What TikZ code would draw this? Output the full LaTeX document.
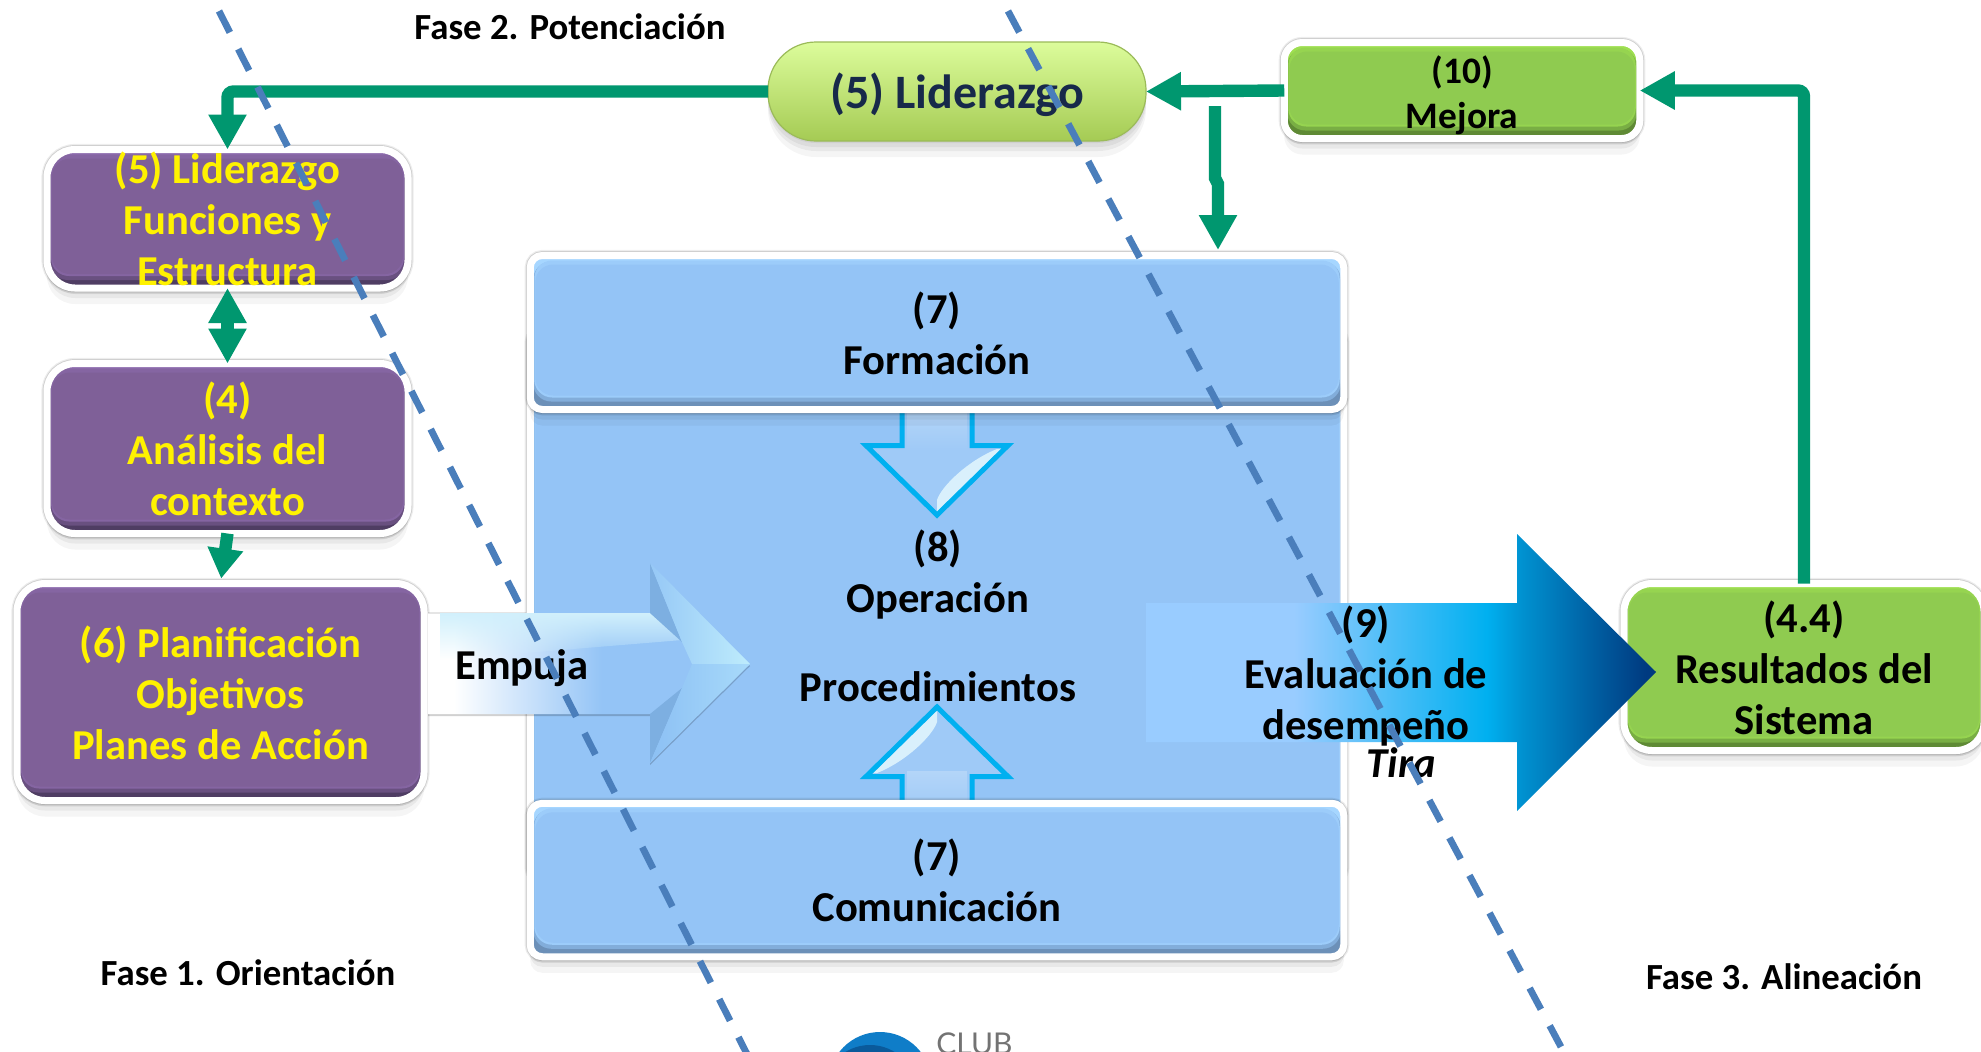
\documentclass[tikz,border=0pt]{standalone}
\usepackage{fontspec}
\setmainfont{Carlito}
\newfontfamily\logofont{Lato}
\usetikzlibrary{arrows.meta,shadows,fadings,calc}
\definecolor{grn}{HTML}{00976F}
\definecolor{dashblue}{HTML}{4A7EBB}
\definecolor{purp}{HTML}{7F6098}
\definecolor{purpT}{HTML}{8D6CAE}
\definecolor{purpB}{HTML}{4F3D63}
\definecolor{leaf}{HTML}{8FCB50}
\definecolor{leafT}{HTML}{9EDF50}
\definecolor{leafB}{HTML}{5F8A35}
\definecolor{sky}{HTML}{94C4F6}
\definecolor{skyT}{HTML}{A6D6FF}
\definecolor{skyB}{HTML}{6C90B8}
\definecolor{cyanline}{HTML}{00B0F0}
\definecolor{bigA}{HTML}{99CCFF}
\definecolor{bigB}{HTML}{00B0F0}
\definecolor{bigC}{HTML}{0090CF}
\definecolor{bigD}{HTML}{003A80}
\pgfdeclarehorizontalshading{bigarrow}{100bp}{color(0bp)=(bigA); color(39.5bp)=(bigA); color(58.4bp)=(bigB); color(62bp)=(bigC); color(74bp)=(bigD); color(100bp)=(bigD)}
\pgfdeclarehorizontalshading{pusharrow}{100bp}{color(0bp)=(white); color(29bp)=(white); color(52bp)=(sky); color(100bp)=(sky)}
\newcommand\ml[3]{\vbox to 0pt{\kern6pt\vss\hbox{\fontsize{#1}{#2}\selectfont\setlength\tabcolsep{0pt}\begin{tabular}{c}#3\end{tabular}}\vss}}
\tikzset{
  sz/.style 2 args={minimum width=#1*0.5pt,minimum height=#2*0.5pt},
  softshadow/.style={
    general shadow={fill=black,opacity=.05,shadow xshift=0pt,shadow yshift=-1pt},
    general shadow={fill=black,opacity=.05,shadow xshift=0pt,shadow yshift=-3pt},
    general shadow={fill=black,opacity=.05,shadow xshift=0pt,shadow yshift=-5pt},
    general shadow={fill=black,opacity=.04,shadow xshift=0pt,shadow yshift=-8pt}},
  halo/.style={
    preaction={draw=black,draw opacity=.07,line width=5.6pt},
    preaction={draw=black,draw opacity=.12,line width=4.4pt}},
  bev/.style n args={3}{
    softshadow,halo,draw=white,line width=3.5pt,fill=#1,inner sep=0pt,outer sep=0pt,font=\bfseries,
    path picture={
      \coordinate (ppsw) at (path picture bounding box.south west);
      \coordinate (ppne) at (path picture bounding box.north east);
      \fill[#3] (ppsw) rectangle (ppne);
      \fill[#2,rounded corners=0pt] ($(ppsw)+(0,-40)$) |- (ppne) |- cycle;
      \fill[#1!55!#3,rounded corners=9pt] ($(ppsw)+(3,-8)$) rectangle ($(ppne)+(-3,6)$);
      \fill[#1!55!#2,rounded corners=9pt] ($(ppsw)+(4,-12)$) rectangle ($(ppne)+(-4,5)$);
      \fill[#1,rounded corners=9pt] ($(ppsw)+(5,-14)$) rectangle ($(ppne)+(-5,9)$);
    }},
  purplebox/.style={bev={purp}{purpT}{purpB},rounded corners=14pt,text=yellow},
  greenbox/.style={bev={leaf}{leafT}{leafB},rounded corners=14pt,text=black},
  bluebox/.style={bev={sky}{skyT}{skyB},rounded corners=6pt,text=black},
  garrow/.style={draw=grn,line width=6.2pt,rounded corners=3pt,-{Triangle[length=17.5pt,width=18pt]}},
  dashline/.style={draw=dashblue,line width=3.4pt,dash pattern=on 12pt off 9.3pt},
  lbl/.style={inner sep=0pt,outer sep=0pt,font=\bfseries,text=black},
}
\newcommand\HollowArrow[2]{%
  \begin{scope}[shift={(937,611)},rotate=#1]
    \fill[sky!90!white,line join=miter] (-35,-200) -- (-35,-165.5) -- (-71,-165.5) -- (0,-96) -- (71,-165.5) -- (35,-165.5) -- (35,-200) -- cycle;
    \fill[white,opacity=.22,path fading=#2] (-30,-200) rectangle (30,-160);
    \fill[cyan!12!white,opacity=.9] (0,-111) .. controls (4,-124) and (30,-150) .. (60,-162) -- (64,-162) -- (0,-99) -- cycle;
    \draw[cyanline,line width=2.5pt,miter limit=10] (-35,-200) -- (-35,-165.5) -- (-71,-165.5) -- (0,-96) -- (71,-165.5) -- (35,-165.5) -- (35,-200);
  \end{scope}}
\begin{document}
\begin{tikzpicture}[x=0.5pt,y=-0.5pt]
\useasboundingbox (0,0) rectangle (1981,1051);
\fill[white] (0,0) rectangle (1981,1051);

% logo at the foot
\fill[fill={rgb,255:red,15;green,125;blue,200}] (880,1083.5) circle[radius=51.5];
\fill[fill={rgb,255:red,10;green,90;blue,155}] (870,1092) circle[radius=47];
\node[inner sep=0pt,anchor=base west,text={rgb,255:red,115;green,115;blue,115}] (club) at (936,1054) {\logofont\fontsize{15}{15}\selectfont CLUB};

% central block
\node[bluebox,sz={813.5}{550}] (back) at (937,605) {};
\HollowArrow{0}{south}
\HollowArrow{180}{south}
\node[bluebox,sz={813.5}{154}] (form) at (937,332.5) {\ml{21.3}{25.5}{(7)\\Formación}};
\node[bluebox,sz={813.5}{153.5}] (comu) at (937,880) {\ml{21.3}{25.5}{(7)\\Comunicación}};
\node[lbl] (oper) at (938,571) {\ml{21.3}{25.5}{(8)\\Operación}};
\node[lbl] (proc) at (938,685) {\ml{21.3}{25.5}{Procedimientos}};

% left column
\node[purplebox,sz={361}{138.5}] (b1) at (227.5,218.75) {\ml{21.3}{25.5}{(5) Liderazgo\\Funciones y\\Estructura}};
\node[purplebox,sz={361}{170}] (b2) at (227.5,448.5) {\ml{21.3}{25.5}{(4)\\Análisis del\\contexto}};
\node[purplebox,sz={407}{217}] (b3) at (220.5,692) {\ml{21.3}{25.5}{(6) Planificación\\Objetivos\\Planes de Acción}};

% top row and right
\node[softshadow,draw={rgb,255:red,155;green,187;blue,89},line width=.6pt,
  top color={rgb,255:red,220;green,252;blue,155},bottom color={rgb,255:red,165;green,203;blue,84},
  rounded corners=24pt,sz={378}{99},inner sep=0pt,outer sep=0pt,font=\bfseries,
  text={rgb,255:red,23;green,41;blue,74}] (pill) at (957,91.5) {\ml{24}{28}{(5) Liderazgo}};
\node[greenbox,sz={355.5}{96},rounded corners=9pt] (mej) at (1462,90.5) {\ml{18.7}{22.5}{(10)\\Mejora}};
\node[greenbox,sz={360}{167}] (res) at (1804,667) {\ml{21.3}{25.5}{(4.4)\\Resultados del\\Sistema}};

% pushing arrow
\begin{scope}
  \shade[shading=pusharrow,general shadow={fill=black,opacity=.18,shadow xshift=0pt,shadow yshift=-1pt}] (428,613) -- (650,613) -- (650,563) -- (750,664) -- (650,763) -- (650,714) -- (428,714) -- cycle;
  \draw[black,draw opacity=.1,line width=.6pt] (428,613) -- (526,613);
  \fill[cyan!18!white,path fading=south] (440,613) -- (650,613) -- (682,640) -- (440,660) -- cycle;
  \fill[fill={rgb,255:red,125;green,175;blue,225}] (650,563) -- (650,613) -- (682,642) -- cycle;
  \fill[fill={rgb,255:red,125;green,175;blue,225}] (650,763) -- (650,714) -- (682,688) -- cycle;
  \shade[left color={rgb,255:red,150;green,200;blue,246},right color={rgb,255:red,190;green,236;blue,252}] (650,563) -- (750,664) -- (692,664) -- (682,642) -- cycle;
  \shade[left color={rgb,255:red,140;green,192;blue,244},right color={rgb,255:red,168;green,218;blue,250}] (650,763) -- (750,664) -- (692,664) -- (682,688) -- cycle;
\end{scope}
\node[lbl] (emp) at (522,663) {\ml{21.3}{25.5}{Empuja}};

% pulling arrow
\shade[shading=bigarrow] (1146,603) -- (1517,603) -- (1517,534) -- (1656,672) -- (1517,811) -- (1517,742) -- (1146,742) -- cycle;
\node[lbl] (eval) at (1366,672) {\ml{21.3}{25.5}{(9)\\Evaluación de\\desempeño}};
\node[lbl] (tira) at (1401,761) {\ml{21.3}{25.5}{\itshape Tira}};

% connectors
\draw[garrow] (pill.west) -| (b1.north);
\draw[garrow,{Triangle[length=17.5pt,width=18pt]}-{Triangle[length=17.5pt,width=18pt]},rounded corners=0pt] (b1.south) -- (b2.north);
\draw[garrow,-{Triangle[length=15pt,width=17pt]},shorten >=2.5pt] (b2.south) -- (b3.north);
\draw[garrow] (mej.west) -- (pill.east);
\draw[garrow] (res.north) |- (mej.east);
\coordinate (bstart) at (1215,106);
\coordinate (bmid) at (1215,178);
\coordinate (bmid2) at (1218,184);
\coordinate (ftop) at ($(form.north)+(281,-5.5)$);
\draw[garrow,rounded corners=0pt] (bstart) -- (bmid) -- (bmid2) -- (ftop);

% phase labels
\node[lbl] (f2) at (570,25) {\ml{18.4}{22}{Fase 2. Potenciación}};
\node[lbl] (f1) at (248,971) {\ml{18.4}{22}{Fase 1. Orientación}};
\node[lbl] (f3) at (1784,975) {\ml{18.4}{22}{Fase 3. Alineación}};

% dashed diagonals
\coordinate (d1a) at (219,11); \coordinate (d1b) at (750,1060);
\coordinate (d2a) at (1008,11); \coordinate (d2b) at (1568,1060);
\draw[dashline] (d1a) -- (d1b);
\draw[dashline] (d2a) -- (d2b);
\end{tikzpicture}
\end{document}
